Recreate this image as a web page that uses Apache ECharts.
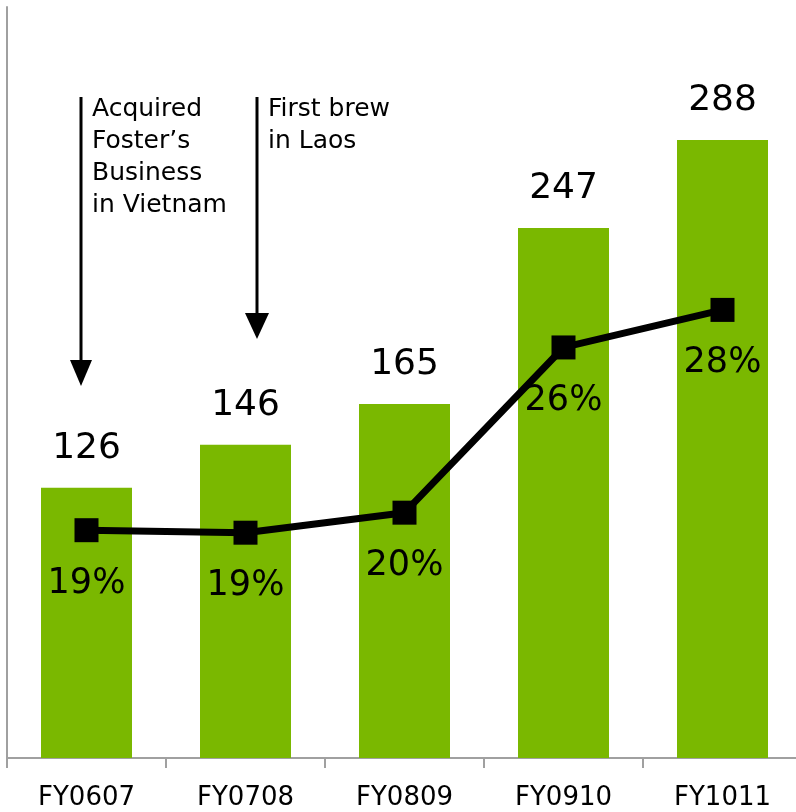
<!DOCTYPE html>
<html>
<head>
<meta charset="utf-8">
<script src="https://cdn.jsdelivr.net/npm/echarts@6/dist/echarts.min.js"></script>
<style>
  html, body { margin: 0; padding: 0; background: #fff; }
  #main { width: 796px; height: 812px; }
</style>
</head>
<body>
<div id="main"></div>
<script>
  // 数据
  var categories = ['FY0607', 'FY0708', 'FY0809', 'FY0910', 'FY1011'];
  var volumes = [126, 146, 165, 247, 288];
  var margins = [19.1, 19.0, 19.8, 26.4, 27.9];   // 标签显示取整

  var font = 'DejaVu Sans';
  var myChart = echarts.init(document.getElementById('main'));

  var option = {
    animation: false,
    grid: { left: 7, right: -6, top: 7, bottom: 54, outerBoundsMode: 'none' },
    xAxis: {
      type: 'category',
      data: categories,
      axisLine: { lineStyle: { color: '#a0a0a0', width: 2 } },
      axisTick: { show: true, length: 10, lineStyle: { color: '#a0a0a0', width: 2 } },
      axisLabel: { color: '#000', fontSize: 26, fontFamily: font, margin: 27 }
    },
    yAxis: [
      {
        type: 'value', min: 0, max: 350,
        axisLine: { show: true, lineStyle: { color: '#a0a0a0', width: 2 } },
        axisTick: { show: false },
        axisLabel: { show: false },
        splitLine: { show: false }
      },
      {
        type: 'value', min: 10, max: 40, show: false,
        splitLine: { show: false }
      }
    ],
    series: [
      {
        type: 'bar',
        data: volumes,
        barWidth: 91,
        itemStyle: { color: '#7ab800' },
        label: {
          show: true, position: 'top', distance: 21,
          color: '#000', fontSize: 36, fontFamily: font
        }
      },
      {
        type: 'line',
        yAxisIndex: 1,
        data: margins,
        symbol: 'rect',
        symbolSize: 24,
        lineStyle: { color: '#000', width: 7 },
        itemStyle: { color: '#000' },
        label: {
          show: true, position: 'bottom', distance: 24,
          color: '#000', fontSize: 35, fontFamily: font,
          formatter: function (p) { return Math.round(p.value) + '%'; }
        },
        z: 3
      }
    ],
    // 注释箭头
    graphic: [
      { type: 'line', shape: { x1: 81, y1: 97, x2: 81, y2: 362 }, style: { stroke: '#000', lineWidth: 3 } },
      { type: 'polygon', shape: { points: [[70, 360], [92, 360], [81, 386]] }, style: { fill: '#000' } },
      { type: 'text', left: 92, top: 93, style: { text: 'Acquired\nFoster’s\nBusiness\nin Vietnam', font: '25px "DejaVu Sans"', fill: '#000', lineHeight: 32 } },
      { type: 'line', shape: { x1: 257, y1: 97, x2: 257, y2: 315 }, style: { stroke: '#000', lineWidth: 3 } },
      { type: 'polygon', shape: { points: [[245, 313], [269, 313], [257, 339]] }, style: { fill: '#000' } },
      { type: 'text', left: 268, top: 93, style: { text: 'First brew\nin Laos', font: '25px "DejaVu Sans"', fill: '#000', lineHeight: 32 } }
    ]
  };
  myChart.setOption(option);
</script>
</body>
</html>
